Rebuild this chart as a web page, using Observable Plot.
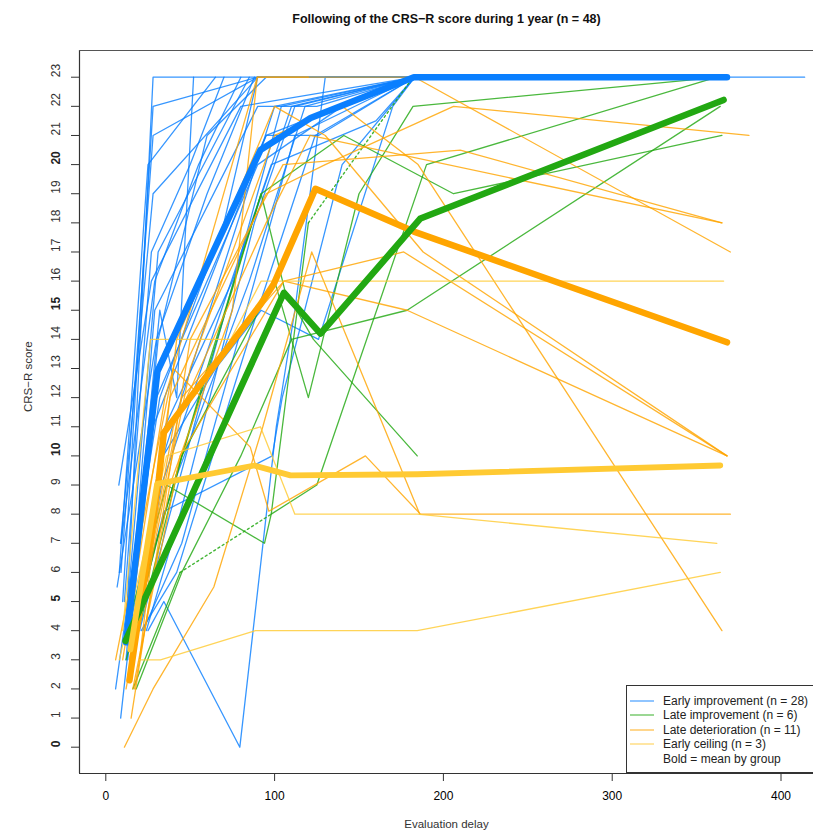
<!DOCTYPE html>
<html>
<head>
<meta charset="utf-8">
<script src="https://cdn.jsdelivr.net/npm/d3@7"></script>
<script src="https://cdn.jsdelivr.net/npm/@observablehq/plot@0.6"></script>
<style>
  html, body { margin: 0; padding: 0; background: #fff; overflow: hidden; }
  #wrap { position: relative; width: 813px; height: 833px; }
  #legend { position: absolute; left: 626px; top: 685px; width: 200px; height: 88px;
            border: 1px solid #333; background: #fff; font-family: "Liberation Sans", Arial, sans-serif;
            font-size: 12px; color: #222; box-sizing: border-box; }
  #legend .row { position: absolute; left: 0; height: 14px; line-height: 14px; white-space: nowrap; }
  #legend svg { position: absolute; left: 2px; top: 0; }
  #legend span { position: absolute; left: 36px; top: 0; }
</style>
</head>
<body>
<div id="wrap"></div>
<script>
// ---------- data ----------
const groupNames = ["Early improvement (n = 28)", "Late improvement (n = 6)", "Late deterioration (n = 11)", "Early ceiling (n = 3)"];
const legendNote = "Bold = mean by group";
const chartTitle = "Following of the CRS\u2212R score during 1 year (n = 48)";
const xLabel = "Evaluation delay";
const yLabel = "CRS\u2212R score";
const xTicks = [0, 100, 200, 300, 400];
const yTicks = [0,1,2,3,4,5,6,7,8,9,10,11,12,13,14,15,16,17,18,19,20,21,22,23];
const yTicksBold = [0, 5, 10, 15, 20];

// each patient: [delay (days), CRS-R score]
const earlyImprovement = [
  [[12,4],[28,23],[183,23],[414,23]],
  [[10,5],[28,22],[90,23],[183,23],[368,23]],
  [[9,6],[28,21],[90,23]],
  [[8.7,7],[28,19],[90,23],[183,23]],
  [[13,5],[31,17],[85,23]],
  [[12,3],[29,15],[90,22],[125,22],[183,23]],
  [[12,4],[30,13],[95,21],[126,21],[183,23]],
  [[7.7,9],[27,16],[80,22],[183,23]],
  [[5.8,2],[30,12],[90,20],[140,22],[183,23]],
  [[8.8,1],[28,11],[95,21],[183,23]],
  [[18,4],[34,10],[100,22],[183,23]],
  [[15,3],[33,9],[98,20],[160,21.5],[183,23]],
  [[20,4],[38,8],[104,22],[183,23]],
  [[22,4],[45,7],[112,21],[183,23]],
  [[25,4],[34.4,5],[79.4,0],[101,11],[112,15],[130,23],[183,23]],
  [[6.7,5.5],[30,14],[60,19],[88,23]],
  [[13,5],[32,12],[70,18],[90,23]],
  [[16,4],[35,11],[75,16],[110,22],[183,23]],
  [[9,7],[29,16],[55,20],[80,23]],
  [[14,4],[34,10],[65,13],[92,15],[126,14],[170,22],[183,23]],
  [[17,4],[34.4,8.1],[98.6,10],[104.5,12],[140,20],[183,23]],
  [[19,5],[40,9],[85,16],[118,22],[183,23]],
  [[11,5],[27,17],[50,20],[70,23]],
  [[8,6],[25,20],[65,23]],
  [[21,4],[42,6],[90,15],[124,21],[183,23]],
  [[13,3],[31,14],[60,21],[95,23]],
  [[24,4],[44,8],[88,18],[112,22],[183,23]],
  [[15,5],[32,15],[42,12],[52,23]]
];
const lateImprovement = [
  [[15,3],[45,10],[100,16],[120,12],[150,19],[182,22],[364,23]],
  [[12,4],[36,9],[94,7],[98,8],[125,9],[190,20],[362,23]],
  [[18,2],[45,6],[80,10],[110,14],[178.5,15],[364,22]],
  [[12,3],[30,7],[60,13],[92,19],[141,21],[206,19],[365,21]],
  [[14,4],[40,9],[92,19],[106,15.7],[123,14],[184.5,10]],
  [[16,2],[30,4],[44,6]],
  [[98,8],[120,18]]
];
// segments of the patient with missing evaluations (dotted)
const lateImprovementDotted = [
  [[44,6],[98,8]],
  [[120,18],[182,23]]
];
const lateDeterioration = [
  [[14,3],[38,12],[95,19],[130,20],[206,22],[381,21]],
  [[10,3],[35,12],[89.7,23],[183,23],[370,17]],
  [[12,2],[40,11],[95,18],[121,21],[365,18]],
  [[15,1],[50,14],[105,20],[210,20.5],[365,18]],
  [[18,4],[45,12],[105.5,16],[176.5,17],[368,10]],
  [[20,3],[42,14],[100,22],[130,21],[188,17],[368,10]],
  [[16,2],[44,10],[105.5,16],[178.5,15],[368,10]],
  [[15,3],[50,13],[100,21],[140,22],[185,20],[365,4]],
  [[5.8,3],[40,13],[85.6,10.3],[96.6,8.1],[153.8,10],[186.4,8],[370,8]],
  [[11,0],[28,2],[64,5.5],[93,11],[122,17],[186,8]],
  [[17,2],[38,9],[75,15],[89.7,23],[120,23]]
];
const earlyCeiling = [
  [[10,4],[26.5,14],[74,14],[92,16],[366,16]],
  [[8,3],[36,10],[91.6,11],[112,8],[184.5,8],[362,7]],
  [[19.6,3],[32.4,3],[88.7,4],[184.5,4],[364,6]]
];
const meanEarlyImprovement = [[12,3.6],[30.6,12.9],[91.6,20.5],[121.3,21.6],[182.5,23],[368,23]];
const meanLateImprovement = [[11.7,3.65],[105.5,15.6],[127.2,14.2],[186.4,18.15],[366,22.22]];
const meanLateDeterioration = [[14,2.3],[31.4,9.2],[34.4,10.8],[91.6,15.2],[99.5,15.9],[124.2,19.17],[182.5,17.7],[368,13.9]];
const meanEarlyCeiling = [[14.6,3.35],[30.4,9.04],[88,9.67],[109.4,9.33],[184.5,9.37],[364,9.67]];

// ---------- styles ----------
const palette = ["#0A7FFF", "#22A812", "#FFA500", "#FFCA33"];
const font = "'Liberation Sans', Arial, Helvetica, sans-serif";

// ---------- build tables ----------
function toRows(patients, group) {
  const rows = [];
  patients.forEach((p, i) => p.forEach(([day, score]) => rows.push({group, id: group + "-" + i, day, score})));
  return rows;
}
const thinGroups = [earlyImprovement, lateImprovement, lateDeterioration, earlyCeiling];
const meanGroups = [meanEarlyImprovement, meanLateImprovement, meanLateDeterioration, meanEarlyCeiling];
const dottedRows = toRows(lateImprovementDotted, "dot");

const xDomain = [-15.58, 419.25];
const yDomain = [-0.903, 23.917];

const marks = [];
thinGroups.forEach((g, gi) => {
  marks.push(Plot.line(toRows(g, "g" + gi), {x: "day", y: "score", z: "id", stroke: palette[gi],
    strokeWidth: 1.3, strokeOpacity: 0.82, strokeLinejoin: "round"}));
  if (gi === 1) {
    marks.push(Plot.line(dottedRows, {x: "day", y: "score", z: "id", stroke: palette[1],
      strokeWidth: 1.4, strokeOpacity: 0.85, strokeDasharray: "2,3"}));
  }
});
[0, 2, 1, 3].forEach(gi => {
  marks.push(Plot.line(toRows([meanGroups[gi]], "m" + gi), {x: "day", y: "score", z: "id", stroke: palette[gi],
    strokeWidth: gi === 3 ? 5.8 : 6.5, strokeLinecap: "round", strokeLinejoin: "round"}));
});

// frame (left, top, bottom; right edge lies outside the picture)
marks.push(Plot.ruleX([xDomain[0]], {stroke: "#333", strokeWidth: 1.2}));
marks.push(Plot.ruleY([yDomain[0]], {stroke: "#333", strokeWidth: 1.2}));
marks.push(Plot.ruleY([yDomain[1]], {stroke: "#555", strokeWidth: 1.2}));

// axes
marks.push(Plot.axisX({ticks: xTicks, tickSize: 8, tickPadding: 10, fontSize: 12, label: null, stroke: "#333"}));
marks.push(Plot.axisY({ticks: yTicks, tickSize: 8, tickFormat: () => "", label: null, stroke: "#333"}));
marks.push(Plot.text(yTicks.filter(d => !yTicksBold.includes(d)), {y: d => d, text: d => String(d),
  frameAnchor: "left", dx: -23.5, rotate: -90, fontSize: 12, fill: "#333"}));
marks.push(Plot.text(yTicksBold, {y: d => d, text: d => String(d),
  frameAnchor: "left", dx: -23.5, rotate: -90, fontSize: 12, fontWeight: "bold", fill: "#222"}));

// titles
marks.push(Plot.text([chartTitle], {frameAnchor: "top", dy: -36, fontSize: 12.5, fontWeight: "bold", fill: "#111"}));
marks.push(Plot.text([xLabel], {frameAnchor: "bottom", dy: 54, fontSize: 11.5, fill: "#333"}));
marks.push(Plot.text([yLabel], {frameAnchor: "left", dx: -51, rotate: -90, fontSize: 11.5, fill: "#333"}));

const chart = Plot.plot({
  width: 813,
  height: 833,
  marginLeft: 79,
  marginRight: 0,
  marginTop: 50,
  marginBottom: 60,
  style: {fontFamily: font, background: "white", overflow: "hidden"},
  x: {domain: xDomain},
  y: {domain: yDomain},
  marks
});
const wrap = document.getElementById("wrap");
wrap.appendChild(chart);

// legend (R-style box, bottom right)
const legend = document.createElement("div");
legend.id = "legend";
const entries = groupNames.map((n, i) => ({label: n, color: palette[i]})).concat([{label: legendNote, color: null}]);
entries.forEach((e, i) => {
  const row = document.createElement("div");
  row.className = "row";
  row.style.top = (8 + i * 14.4) + "px";
  row.style.width = "200px";
  if (e.color) {
    row.innerHTML = `<svg width="26" height="14"><line x1="1" x2="25" y1="7" y2="7" stroke="${e.color}" stroke-width="1.8" stroke-opacity="0.5"/></svg>`;
  }
  const sp = document.createElement("span");
  sp.textContent = e.label;
  row.appendChild(sp);
  legend.appendChild(row);
});
wrap.appendChild(legend);
</script>
</body>
</html>
